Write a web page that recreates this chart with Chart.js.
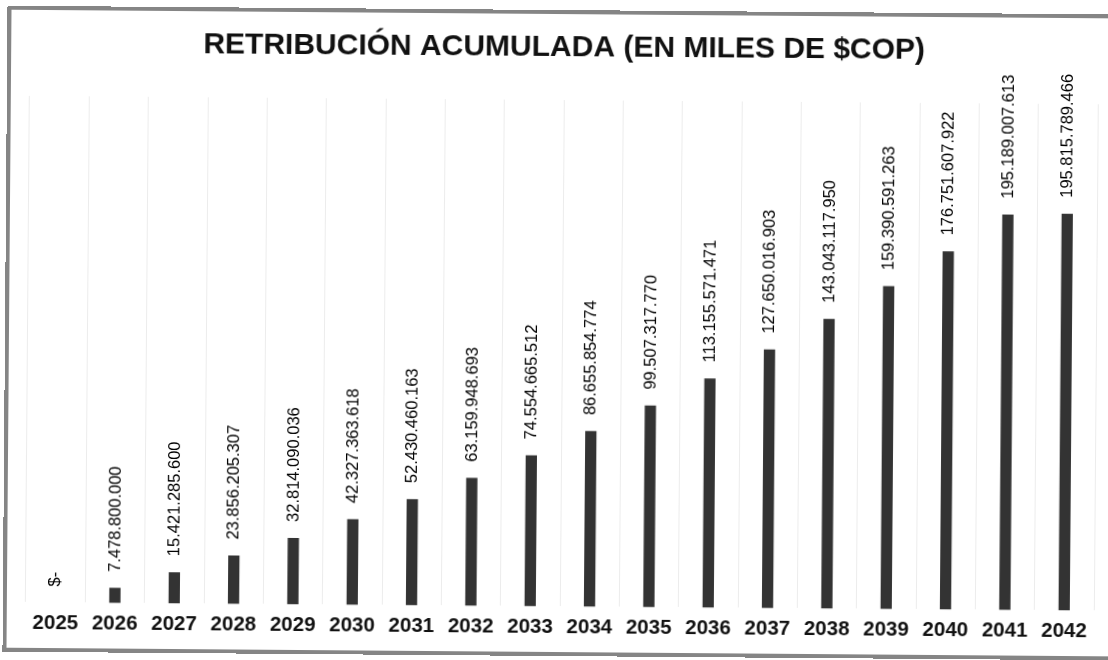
<!DOCTYPE html>
<html lang="es">
<head>
<meta charset="utf-8">
<title>Retribución acumulada</title>
<script src="https://cdn.jsdelivr.net/npm/chart.js@4/dist/chart.umd.min.js"></script>
<style>
  html, body { margin: 0; padding: 0; background: #fff; overflow: hidden; }
  #sheet {
    position: absolute;
    left: 0; top: 0;
    width: 1108px;
    height: 660px;
    transform: rotate(0.45deg);
    transform-origin: 50% 50%;
  }
  #frame {
    position: absolute;
    left: 5px;
    top: 10px;
    width: 1140px;
    height: 638px;
    border-top: 4px solid #858585;
    border-left: 4px solid #858585;
    border-bottom: 4px solid #858585;
    pointer-events: none;
  }
  #retribucionChart { position: absolute; left: 0; top: 0; }
</style>
</head>
<body>
<div id="sheet">
  <canvas id="retribucionChart" width="1108" height="660"></canvas>
  <div id="frame"></div>
</div>

<script>
// años y retribución acumulada (miles de $COP)
const years = [
  "2025", "2026", "2027", "2028", "2029", "2030", "2031", "2032", "2033",
  "2034", "2035", "2036", "2037", "2038", "2039", "2040", "2041", "2042"
];

const retribucion = [
  0, 7478800000, 15421285600, 23856205307, 32814090036, 42327363618,
  52430460163, 63159948693, 74554665512, 86655854774, 99507317770,
  113155571471, 127650016903, 143043117950, 159390591263, 176751607922,
  195189007613, 195815789466
];

const yMax = 250000000000;

// formato contable: puntos de miles, cero como "$-"
function formatoCOP(v) {
  if (!v) return "$-";
  return Math.round(v).toString().replace(/\B(?=(\d{3})+(?!\d))/g, ".");
}

// etiquetas verticales encima de cada barra
const barLabels = {
  id: "barLabels",
  afterDatasetsDraw(chart) {
    const ctx = chart.ctx;
    const meta = chart.getDatasetMeta(0);
    ctx.save();
    ctx.font = "16.5px 'Liberation Sans', Arial, sans-serif";
    ctx.fillStyle = "#000";
    ctx.textAlign = "left";
    ctx.textBaseline = "middle";
    meta.data.forEach((bar, i) => {
      const txt = formatoCOP(retribucion[i]);
      ctx.save();
      ctx.translate(bar.x, bar.y - 16);
      ctx.rotate(-Math.PI / 2);
      ctx.fillText(txt, 0, 0);
      ctx.restore();
    });
    ctx.restore();
  }
};

const ctx = document.getElementById("retribucionChart").getContext("2d");

new Chart(ctx, {
  type: "bar",
  data: {
    labels: years,
    datasets: [{
      label: "Retribución acumulada",
      data: retribucion,
      backgroundColor: "#333333",
      borderWidth: 0,
      categoryPercentage: 1,
      barPercentage: 0.19
    }]
  },
  options: {
    responsive: false,
    animation: false,
    layout: {
      padding: { left: 28, right: 12, top: 0, bottom: 11 }
    },
    plugins: {
      legend: { display: false },
      tooltip: { enabled: false },
      title: {
        display: true,
        text: "RETRIBUCIÓN ACUMULADA (EN MILES DE $COP)",
        color: "#111",
        font: { family: "'Liberation Sans', Arial, sans-serif", size: 30, weight: "bold" },
        padding: { top: 30, bottom: 34 }
      }
    },
    scales: {
      x: {
        offset: true,
        border: { display: false },
        grid: {
          offset: true,
          color: "#ececec",
          lineWidth: 1,
          drawTicks: false
        },
        ticks: {
          color: "#111",
          padding: 9,
          font: { family: "'Liberation Sans', Arial, sans-serif", size: 20.5, weight: "bold" },
          maxRotation: 0,
          autoSkip: false
        }
      },
      y: {
        display: false,
        min: 0,
        max: yMax
      }
    }
  },
  plugins: [barLabels]
});
</script>
</body>
</html>
